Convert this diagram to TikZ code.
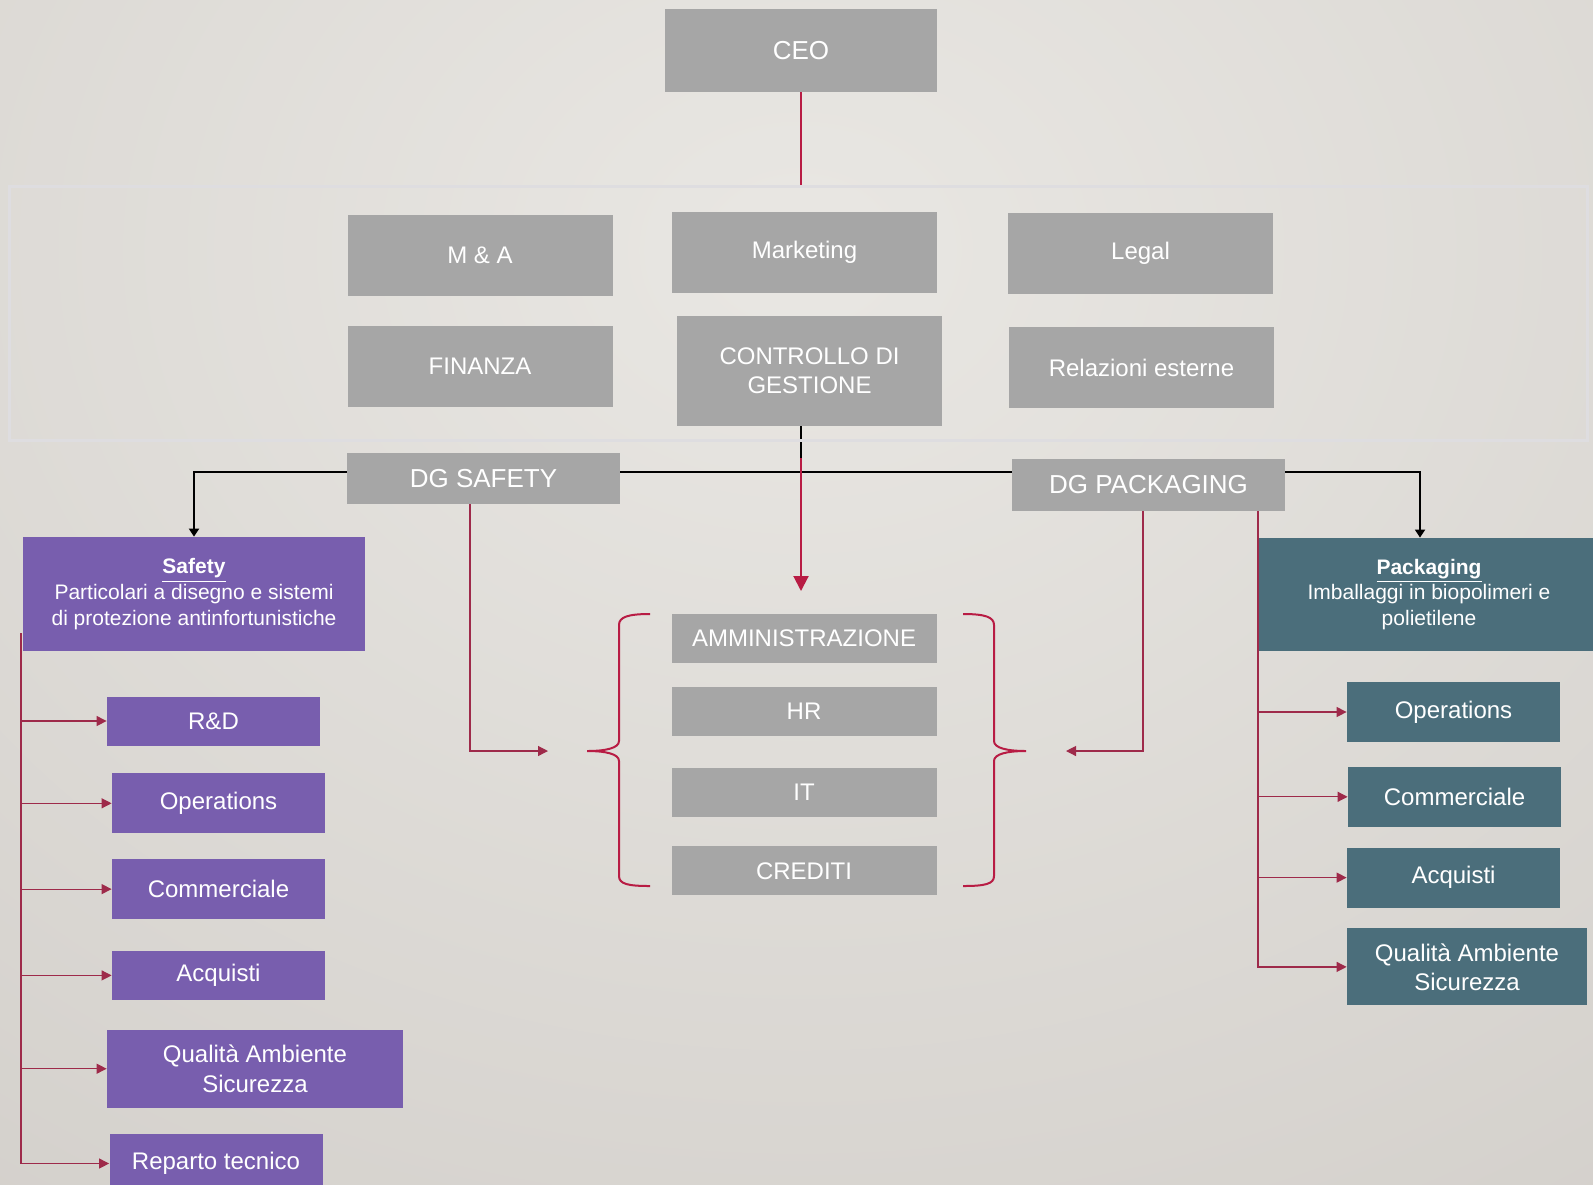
\documentclass[tikz,border=0pt]{standalone}
\usepackage{fontspec}
\setmainfont{Liberation Sans}
\usetikzlibrary{arrows.meta, positioning, calc, backgrounds}

\definecolor{boxgray}{HTML}{A6A6A6}
\definecolor{safetyviolet}{HTML}{785EAE}
\definecolor{packteal}{HTML}{4B6E7B}
\definecolor{linkred}{HTML}{B81C44}
\definecolor{subred}{HTML}{9E2A4A}
\definecolor{framegray}{HTML}{DEDDE0}
\definecolor{bglight}{HTML}{E9E7E3}
\definecolor{bgdark}{HTML}{CCC8C3}

\begin{document}
\begin{tikzpicture}[x=0.5pt, y=-0.5pt,
        unit/.style = {
            rectangle,
            fill=boxgray,
            text=white,
            inner sep=0pt,
            align=center,
            minimum width=132.5pt,
            minimum height=40.5pt,
            font=\fontsize{12}{14.6}\selectfont
        },
        dg_node/.style = {unit, minimum width=136.5pt, minimum height=26pt, font=\fontsize{13}{15.6}\selectfont},
        office/.style = {unit, minimum height=24.5pt},
        head_node/.style = {unit, minimum width=171pt, minimum height=57pt, font=\fontsize{10.5}{12.8}\selectfont},
        safety_node/.style = {unit, fill=safetyviolet, minimum width=106.5pt, minimum height=30pt},
        pack_node/.style = {unit, fill=packteal, minimum width=106.5pt, minimum height=30pt},
        frame_node/.style = {draw=framegray, line width=1.6pt, minimum width=789pt, minimum height=127pt},
        brace/.style = {draw=linkred, line width=1pt},
        link/.style = {draw=linkred, line width=1pt},
        sub_link/.style = {draw=subred, line width=0.6pt, -{Triangle[length=5pt, width=5pt]}},
        ctrl_link/.style = {draw=black, line width=0.9pt}
    ]

    \useasboundingbox (0,0) rectangle (1593,1184);
    \begin{scope}[on background layer]
        \shade[inner color=bglight, outer color=bgdark] (-1200,-1350) rectangle (2800,1850);
    \end{scope}

    % top and staff
    \node (ceo) [unit, minimum width=136pt, minimum height=41.5pt, font=\fontsize{13}{15.6}\selectfont] at (801,50.5) {CEO};
    \node (staff) [frame_node] at (798.5,313.5) {};

    \node (ma) [unit] at (480,255.5) {M \& A};
    \node (mkt) [unit] at (804.5,252) {Marketing};
    \node (legal) [unit] at (1140.5,253.5) {Legal};
    \node (fin) [unit] at (480,366.5) {FINANZA};
    \node (cdg) [unit, minimum height=55pt] at (809.5,370.5) {CONTROLLO DI\\GESTIONE};
    \node (rel) [unit] at (1141.5,367.5) {Relazioni esterne};

    \node (dgs) [dg_node, minimum height=25.5pt] at (483.5,478.5) {DG SAFETY};
    \node (dgp) [dg_node] at (1148.5,485) {DG PACKAGING};

    \node (safety) [head_node, fill=safetyviolet] at (194,594) {\textbf{\underline{Safety}}\\Particolari a disegno e sistemi\\di protezione antinfortunistiche};
    \node (pack) [head_node, fill=packteal, minimum width=170pt, minimum height=56.5pt] at (1429,594.5) {\textbf{\underline{Packaging}}\\Imballaggi in biopolimeri e\\polietilene};

    % shared offices
    \node (amm) [office] at (804,638) {AMMINISTRAZIONE};
    \node (hr) [office, below=11.75pt of amm] {HR};
    \node (it) [office, below=15.5pt of hr] {IT};
    \node (cred) [office, below=14.5pt of it] {CREDITI};

    % safety units
    \node (rd) [safety_node, minimum height=24.5pt] at (213.5,721) {R\&D};
    \node (s_ops) [safety_node, below=13.5pt of rd, xshift=2.5pt] {Operations};
    \node (s_comm) [safety_node, below=12.5pt of s_ops] {Commerciale};
    \node (s_acq) [safety_node, minimum height=24.5pt, below=15.5pt of s_comm] {Acquisti};
    \node (s_qas) [safety_node, minimum width=148pt, minimum height=39pt, below=14.5pt of s_acq, xshift=18.25pt] {Qualità Ambiente\\Sicurezza};
    \node (s_rep) [safety_node, below=12.5pt of s_qas, xshift=-19.5pt] {Reparto tecnico};

    % packaging units
    \node (p_ops) [pack_node] at (1453.5,712) {Operations};
    \node (p_comm) [pack_node, below=12pt of p_ops, xshift=0.5pt] {Commerciale};
    \node (p_acq) [pack_node, below=10pt of p_comm, xshift=-0.5pt] {Acquisti};
    \node (p_qas) [pack_node, minimum width=120pt, minimum height=38.5pt, below=10pt of p_acq, xshift=6.75pt] {Qualità Ambiente\\Sicurezza};

    \coordinate (hub) at (801,472);
    \coordinate (grp) at (801,591);
    \coordinate (lbrace) at (587,751);
    \coordinate (rbrace) at (1026,751);
    \coordinate (lspine) at (21,633);
    \coordinate (rspine) at (1258,510);

    \draw[brace] (650,614) .. controls (628,614) and (619,617) .. (619,625) -- (619,741) .. controls (619,748) and (606,751) .. (lbrace) .. controls (606,751) and (619,754) .. (619,761) -- (619,876) .. controls (619,884) and (628,886) .. (650,886);
    \draw[brace] (963,614) .. controls (985,614) and (994,617) .. (994,625) -- (994,741) .. controls (994,748) and (1007,751) .. (rbrace) .. controls (1007,751) and (994,754) .. (994,761) -- (994,876) .. controls (994,884) and (985,886) .. (963,886);

    \begin{scope}[on background layer]
        \draw[link] (ceo.south) -- (ceo.south |- staff.north);
        \draw[ctrl_link] (hub |- cdg.south) -- (hub);
        \draw[ctrl_link, -{Triangle[length=4pt, width=5pt]}] (hub) -| (safety.north);
        \draw[ctrl_link, -{Triangle[length=4pt, width=5pt]}] (hub) -| ($(pack.north)+(-9,0)$);
        \draw[link, -{Triangle[length=7.5pt, width=7.5pt]}] ($(hub)+(0,-14)$) -- (grp);
        \draw[sub_link] ($(dgs.south)+(-13.5,0)$) |- ($(lbrace)+(-39,0)$);
        \draw[sub_link] ($(dgp.south)+(-5.5,0)$) |- ($(rbrace)+(40,0)$);
        \foreach \n in {rd, s_ops, s_comm, s_acq, s_qas, s_rep}
            \draw[sub_link] (lspine) |- (\n.west);
        \foreach \n in {p_ops, p_comm, p_acq, p_qas}
            \draw[sub_link] (rspine) |- (\n.west);
    \end{scope}

\end{tikzpicture}
\end{document}
